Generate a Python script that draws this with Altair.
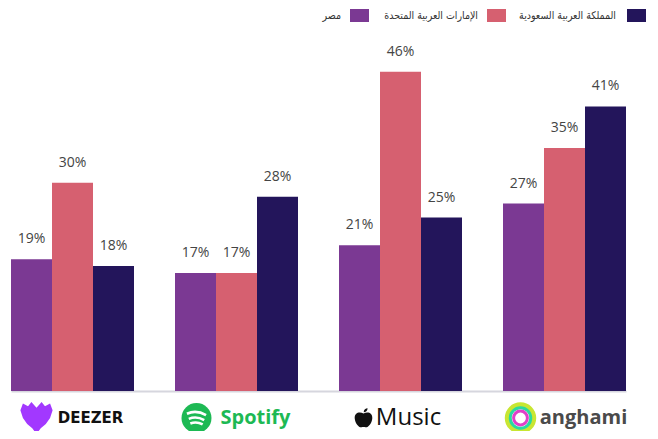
import altair as alt
import pandas as pd

platforms = ["Deezer", "Spotify", "Apple Music", "Anghami"]
countries = ["مصر", "الإمارات العربية المتحدة", "المملكة العربية السعودية"]
colors = ["#7B3993", "#D66070", "#23155B"]
egypt = [19, 17, 21, 27]
uae = [30, 17, 46, 35]
ksa = [18, 28, 25, 41]

rows = []
for i, p in enumerate(platforms):
    for c, vals in zip(countries, [egypt, uae, ksa]):
        rows.append({"platform": p, "country": c, "value": vals[i], "label": f"{vals[i]}%"})
df = pd.DataFrame(rows)

FONT = "Open Sans, DejaVu Sans"
AR_FONT = "DejaVu Sans Condensed, DejaVu Sans"

x = alt.X("platform:N", sort=platforms,
          scale=alt.Scale(paddingInner=0.25, paddingOuter=0),
          axis=alt.Axis(title=None, labels=False, ticks=False, domainColor="#d6d6de", domainWidth=2))
xo = alt.XOffset("country:N", sort=countries, scale=alt.Scale(paddingInner=0, paddingOuter=0))
y = alt.Y("value:Q", scale=alt.Scale(domain=[0, 50]), axis=None)
color = alt.Color("country:N", sort=countries, scale=alt.Scale(domain=countries, range=colors), legend=None)

base = alt.Chart(df)
bars = base.mark_bar(stroke=None).encode(x=x, xOffset=xo, y=y, color=color)
labels = base.mark_text(dy=-20, fontSize=14, color="#444444", font=FONT).encode(
    x=x, xOffset=xo, y=y, text="label:N")

# legend (drawn manually, right-to-left)
leg_rect_x = [339, 476, 616]
leg_text_x = [330, 467, 605]
legend_layers = []
for c, rx, tx in zip(countries, leg_rect_x, leg_text_x):
    sub = base.transform_filter(alt.datum.country == c).transform_filter(alt.datum.platform == platforms[0])
    legend_layers.append(sub.mark_rect().encode(
        x=alt.value(rx), x2=alt.value(rx + 19), y=alt.value(-35), y2=alt.value(-22), color=color))
    legend_layers.append(sub.mark_text(align="right", baseline="middle", fontSize=10.5, color="#333333",
                                       font=AR_FONT).encode(x=alt.value(tx), y=alt.value(-28), text="country:N"))

# brand labels under the groups
pdf = pd.DataFrame({"platform": platforms})
pb = alt.Chart(pdf)
YB = 374

def brand(p, text, dx, size, col, weight="bold", font=FONT):
    return pb.transform_filter(alt.datum.platform == p).mark_text(
        text=text, dx=dx, fontSize=size, color=col, fontWeight=weight, font=font,
        baseline="middle", align="center").encode(x=x, y=alt.value(YB))

def icon(p, shape, dx, size, fill=None, stroke=None, sw=0, dy=0):
    kw = dict(shape=shape, xOffset=dx, yOffset=dy, size=size, opacity=1)
    if fill:
        kw.update(filled=True, fill=fill, strokeWidth=0)
    else:
        kw.update(filled=False, stroke=stroke, strokeWidth=sw, fillOpacity=0)
    return pb.transform_filter(alt.datum.platform == p).mark_point(**kw).encode(x=x, y=alt.value(YB))

HEART = ("M0,0.95 L-0.25,0.6 L-0.55,0.35 L-0.8,0 L-0.95,-0.45 L-0.8,-0.85 L-0.5,-0.7 L-0.3,-0.95 "
         "L0,-0.6 L0.3,-0.95 L0.5,-0.7 L0.8,-0.85 L0.95,-0.45 L0.8,0 L0.55,0.35 L0.25,0.6 Z")
ARCS = ("M-0.62,-0.28 Q0,-0.55 0.62,-0.18 M-0.5,0.06 Q0,-0.15 0.5,0.14 "
        "M-0.4,0.36 Q0,0.2 0.4,0.42")
APPLE = ("M0,-0.45 C-0.35,-0.7 -0.95,-0.6 -0.9,0.05 C-0.85,0.6 -0.45,1 -0.2,0.95 "
         "C-0.1,0.9 0.1,0.9 0.2,0.95 C0.45,1 0.85,0.6 0.9,0.05 C0.95,-0.6 0.35,-0.7 0,-0.45 Z "
         "M0.02,-0.58 C0.02,-0.85 0.22,-1 0.42,-1 C0.42,-0.75 0.22,-0.6 0.02,-0.58 Z")

brands = [
    icon("Deezer", HEART, -36, 1150, fill="#A238FF"),
    brand("Deezer", "DEEZER", 18, 15, "#111111", weight=900, font="DejaVu Sans"),
    icon("Spotify", "circle", -40, 900, fill="#1DB954"),
    icon("Spotify", ARCS, -40, 950, stroke="#ffffff", sw=2.6),
    brand("Spotify", "Spotify", 19, 20, "#1DB954"),
    icon("Apple Music", APPLE, -37, 380, fill="#111111"),
    brand("Apple Music", "Music", 8, 24, "#111111", weight="normal"),
    icon("Anghami", "circle", -44, 700, stroke="#C8E632", sw=5),
    icon("Anghami", "circle", -44, 420, stroke="#2BD9A0", sw=3),
    icon("Anghami", "circle", -44, 190, stroke="#E040C8", sw=3),
    brand("Anghami", "anghami", 19, 20, "#4a4a4a"),
]

chart = alt.layer(bars, labels, *legend_layers, *brands).properties(
    width=615, height=347,
    autosize=alt.AutoSizeParams(type="none"),
    padding={"left": 3, "top": 36, "right": 24, "bottom": 40},
).configure_view(stroke=None)

chart.save("out.html", embed_options={"renderer": "svg", "actions": False})
